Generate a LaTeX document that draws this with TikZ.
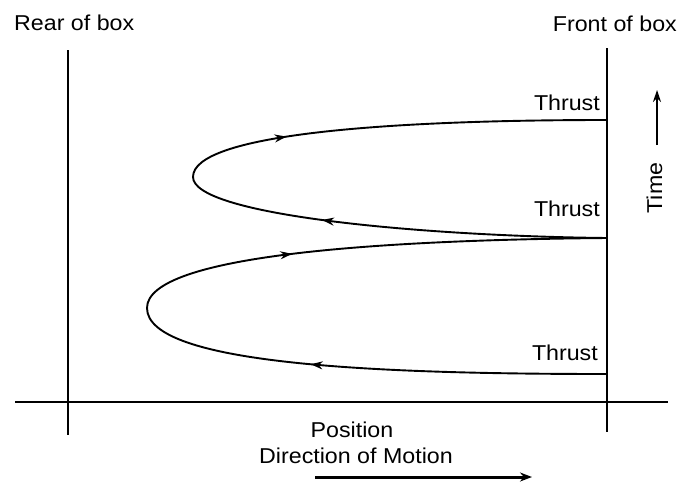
\documentclass[tikz,border=0pt]{standalone}
\usepackage{fontspec}
\setmainfont{Liberation Sans}
\usetikzlibrary{arrows.meta,decorations.markings}
\newcommand\widetext[1]{\scalebox{1.08}[1]{#1}}
\tikzset{
  lbl/.style={inner sep=0pt,font=\fontsize{21.5}{24}\selectfont},
  wall/.style={line width=1.8pt},
  traj/.style={line width=1.9pt},
  arr/.style={postaction={decorate},decoration={markings,
      mark=at position #1 with {\arrow{Stealth[length=12pt,width=8pt]}}}}
}
\begin{document}
\begin{tikzpicture}[x=1pt,y=-1pt]
\useasboundingbox (0,0) rectangle (682,482);
% walls and axis
\coordinate (rt) at (68,50);  \coordinate (rb) at (68,435);
\coordinate (ft) at (607,48); \coordinate (fb) at (607,432);
\coordinate (al) at (15,402); \coordinate (ar) at (668,402);
\draw[wall] (rt) -- (rb);
\draw[wall] (ft) -- (fb);
\draw[line width=2.4pt] (al) -- (ar);
% labels
\node[lbl,anchor=base west] (rear) at (14,30) {\widetext{Rear of box}};
\node[lbl,anchor=base east] (front) at (677,31) {\widetext{Front of box}};
\node[lbl,anchor=base east] (t1) at (600,110) {\widetext{Thrust}};
\node[lbl,anchor=base east] (t2) at (600,216) {\widetext{Thrust}};
\node[lbl,anchor=base east] (t3) at (598,360) {\widetext{Thrust}};
\node[lbl,rotate=90,anchor=base] (time) at (662,188) {\widetext{Time}};
\node[lbl,anchor=base] (pos) at (352,437) {\widetext{Position}};
\node[lbl,anchor=base] (dir) at (356,463) {\widetext{Direction of Motion}};
% arrows
\coordinate (ts) at (657,145); \coordinate (te) at (657,90);
\draw[line width=1.6pt,-{Stealth[length=12pt,width=8pt]}] (ts) -- (te);
\coordinate (ds) at (315,477); \coordinate (de) at (532,477);
\draw[line width=3pt,-{Stealth[length=12pt,width=9pt]}] (ds) -- (de);
% trajectory
\coordinate (p0) at (607,374);
\coordinate (l1) at (147,308);
\coordinate (p1) at (607,238);
\coordinate (l2) at (193,177);
\coordinate (p2) at (607,120);
\draw[traj,arr=0.62] (p0) .. controls (380,374) and (147,365) .. (l1);
\draw[traj,arr=0.34] (l1) .. controls (147,255) and (380,240) .. (p1);
\draw[traj,arr=0.67] (p1) .. controls (420,236) and (193,215) .. (l2);
\draw[traj,arr=0.25] (l2) .. controls (193,135) and (380,120) .. (p2);
\end{tikzpicture}
\end{document}
